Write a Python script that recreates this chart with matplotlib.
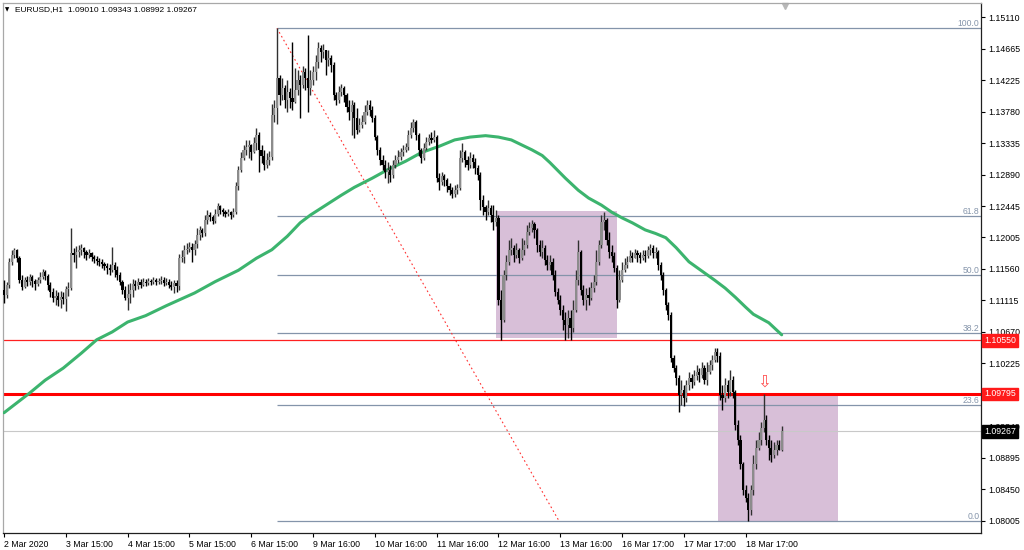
import matplotlib
matplotlib.use('Agg')
from matplotlib import pyplot as plt
from matplotlib.patches import Rectangle
from matplotlib.transforms import blended_transform_factory
import numpy as np

plt.rcParams['font.family'] = ['Liberation Sans', 'DejaVu Sans']

# ---- data (EURUSD H1, one value per hourly bar) ----
header = 'EURUSD,H1  1.09010 1.09343 1.08992 1.09267'
first_open = 1.1126
closes = [
    1.1119, 1.1133, 1.1166, 1.1176, 1.1183, 1.1171, 1.1140, 1.1130, 1.1140, 1.1138,
    1.1145, 1.1139, 1.1135, 1.1140, 1.1145, 1.1152, 1.1146, 1.1133, 1.1123, 1.1115,
    1.1118, 1.1112, 1.1116, 1.1114, 1.1128, 1.1129, 1.1179, 1.1176, 1.1180, 1.1183,
    1.1186, 1.1180, 1.1176, 1.1179, 1.1173, 1.1170, 1.1167, 1.1166, 1.1163, 1.1160,
    1.1157, 1.1154, 1.1161, 1.1154, 1.1147, 1.1138, 1.1126, 1.1115, 1.1121, 1.1126,
    1.1135, 1.1132, 1.1138, 1.1133, 1.1138, 1.1136, 1.1139, 1.1138, 1.1140, 1.1138,
    1.1139, 1.1140, 1.1136, 1.1138, 1.1133, 1.1130, 1.1136, 1.1132, 1.1171, 1.1173,
    1.1183, 1.1184, 1.1187, 1.1183, 1.1191, 1.1204, 1.1211, 1.1207, 1.1225, 1.1232,
    1.1229, 1.1224, 1.1234, 1.1245, 1.1239, 1.1236, 1.1234, 1.1236, 1.1232, 1.1236,
    1.1273, 1.1296, 1.1312, 1.1324, 1.1328, 1.1331, 1.1321, 1.1334, 1.1345, 1.1324,
    1.1315, 1.1303, 1.1310, 1.1314, 1.1373, 1.1383, 1.1425, 1.1401, 1.1411, 1.1394,
    1.1406, 1.1397, 1.1392, 1.1408, 1.1423, 1.1415, 1.1434, 1.1425, 1.1411, 1.1423,
    1.1434, 1.1448, 1.1468, 1.1462, 1.1465, 1.1451, 1.1454, 1.1444, 1.1401, 1.1394,
    1.1406, 1.1411, 1.1401, 1.1384, 1.1377, 1.1387, 1.1369, 1.1352, 1.1359, 1.1363,
    1.1377, 1.1387, 1.1380, 1.1369, 1.1342, 1.1324, 1.1310, 1.1303, 1.1293, 1.1296,
    1.1288, 1.1303, 1.1310, 1.1314, 1.1321, 1.1324, 1.1328, 1.1345, 1.1355, 1.1363,
    1.1345, 1.1324, 1.1312, 1.1327, 1.1335, 1.1341, 1.1338, 1.1342, 1.1284, 1.1279,
    1.1287, 1.1281, 1.1273, 1.1267, 1.1262, 1.1267, 1.1270, 1.1312, 1.1321, 1.1310,
    1.1303, 1.1312, 1.1307, 1.1298, 1.1288, 1.1253, 1.1243, 1.1236, 1.1242, 1.1232,
    1.1222, 1.1228, 1.1112, 1.1084, 1.1147, 1.1166, 1.1183, 1.1186, 1.1176, 1.1183,
    1.1171, 1.1183, 1.1190, 1.1208, 1.1214, 1.1219, 1.1211, 1.1190, 1.1180, 1.1186,
    1.1169, 1.1161, 1.1166, 1.1147, 1.1123, 1.1112, 1.1098, 1.1084, 1.1077, 1.1087,
    1.1073, 1.1098, 1.1140, 1.1180, 1.1126, 1.1112, 1.1119, 1.1115, 1.1129, 1.1138,
    1.1166, 1.1190, 1.1222, 1.1225, 1.1197, 1.1180, 1.1174, 1.1157, 1.1112, 1.1140,
    1.1154, 1.1161, 1.1166, 1.1174, 1.1171, 1.1179, 1.1176, 1.1171, 1.1176, 1.1174,
    1.1183, 1.1186, 1.1179, 1.1180, 1.1161, 1.1147, 1.1126, 1.1105, 1.1091, 1.1030,
    1.1016, 1.1002, 1.0978, 1.0985, 1.0974, 1.0992, 1.1002, 1.0996, 1.1005, 1.1011,
    1.1006, 1.1016, 1.0999, 1.1011, 1.1021, 1.1028, 1.1039, 1.1033, 1.0978, 1.0974,
    1.0992, 1.0982, 1.0999, 1.0982, 1.0936, 1.0915, 1.0880, 1.0844, 1.0833, 1.0816,
    1.0844, 1.0880, 1.0903, 1.0915, 1.0932, 1.0943, 1.0915, 1.0903, 1.0894, 1.0901,
    1.0908, 1.0901, 1.09267,
]
highs = [
    1.1140, 1.1138, 1.1171, 1.1183, 1.1186, 1.1184, 1.1174, 1.1147, 1.1145, 1.1146,
    1.1149, 1.1147, 1.1142, 1.1145, 1.1152, 1.1156, 1.1154, 1.1149, 1.1138, 1.1129,
    1.1126, 1.1123, 1.1125, 1.1123, 1.1132, 1.1138, 1.1214, 1.1186, 1.1188, 1.1190,
    1.1191, 1.1187, 1.1183, 1.1184, 1.1180, 1.1176, 1.1174, 1.1171, 1.1170, 1.1166,
    1.1164, 1.1163, 1.1187, 1.1166, 1.1160, 1.1152, 1.1140, 1.1132, 1.1135, 1.1136,
    1.1142, 1.1140, 1.1143, 1.1142, 1.1143, 1.1142, 1.1143, 1.1142, 1.1145, 1.1143,
    1.1143, 1.1146, 1.1145, 1.1143, 1.1142, 1.1139, 1.1140, 1.1140, 1.1177, 1.1183,
    1.1190, 1.1193, 1.1194, 1.1193, 1.1197, 1.1214, 1.1217, 1.1214, 1.1232, 1.1239,
    1.1236, 1.1232, 1.1241, 1.1249, 1.1246, 1.1242, 1.1239, 1.1241, 1.1238, 1.1242,
    1.1279, 1.1301, 1.1321, 1.1331, 1.1338, 1.1338, 1.1332, 1.1342, 1.1355, 1.1349,
    1.1331, 1.1324, 1.1320, 1.1322, 1.1389, 1.1394, 1.14955, 1.1430, 1.1425, 1.1416,
    1.1423, 1.1411, 1.1476, 1.1439, 1.1437, 1.1430, 1.1443, 1.1439, 1.1486, 1.1437,
    1.1443, 1.1458, 1.1476, 1.1472, 1.1473, 1.1465, 1.1465, 1.1458, 1.1448, 1.1406,
    1.1414, 1.1417, 1.1414, 1.1404, 1.1394, 1.1394, 1.1392, 1.1383, 1.1369, 1.1373,
    1.1387, 1.1394, 1.1394, 1.1386, 1.1373, 1.1345, 1.1328, 1.1317, 1.1310, 1.1307,
    1.1303, 1.1310, 1.1317, 1.1324, 1.1327, 1.1331, 1.1334, 1.1352, 1.1363, 1.1368,
    1.1366, 1.1348, 1.1327, 1.1334, 1.1342, 1.1346, 1.1349, 1.1352, 1.1345, 1.1291,
    1.1293, 1.1290, 1.1284, 1.1277, 1.1271, 1.1274, 1.1276, 1.1324, 1.1334, 1.1324,
    1.1315, 1.1321, 1.1318, 1.1312, 1.1303, 1.1293, 1.1260, 1.1246, 1.1253, 1.1246,
    1.1246, 1.1239, 1.1232, 1.1126, 1.1154, 1.1176, 1.1197, 1.1200, 1.1190, 1.1193,
    1.1186, 1.1200, 1.1197, 1.1218, 1.1222, 1.1225, 1.1222, 1.1214, 1.1197, 1.1197,
    1.1190, 1.1176, 1.1176, 1.1171, 1.1154, 1.1129, 1.1119, 1.1105, 1.1095, 1.1098,
    1.1098, 1.1112, 1.1154, 1.1197, 1.1183, 1.1133, 1.1129, 1.1130, 1.1138, 1.1147,
    1.1183, 1.1197, 1.1232, 1.1236, 1.1228, 1.1208, 1.1190, 1.1180, 1.1161, 1.1154,
    1.1166, 1.1171, 1.1174, 1.1183, 1.1180, 1.1184, 1.1183, 1.1180, 1.1183, 1.1183,
    1.1188, 1.1191, 1.1190, 1.1187, 1.1183, 1.1166, 1.1152, 1.1129, 1.1109, 1.1095,
    1.1035, 1.1020, 1.1006, 1.0999, 1.0992, 1.0999, 1.1011, 1.1008, 1.1013, 1.1021,
    1.1016, 1.1025, 1.1021, 1.1025, 1.1028, 1.1035, 1.1044, 1.1044, 1.1039, 1.0992,
    1.1002, 1.0999, 1.1013, 1.1005, 1.0985, 1.0943, 1.0922, 1.0884, 1.0851, 1.0840,
    1.0851, 1.0894, 1.0915, 1.0926, 1.0940, 1.0980, 1.0950, 1.0922, 1.0915, 1.0912,
    1.0915, 1.0915, 1.09343,
]
lows = [
    1.1108, 1.1115, 1.1129, 1.1161, 1.1171, 1.1166, 1.1136, 1.1126, 1.1129, 1.1132,
    1.1133, 1.1130, 1.1126, 1.1132, 1.1136, 1.1142, 1.1140, 1.1126, 1.1116, 1.1109,
    1.1105, 1.1104, 1.1101, 1.1107, 1.1097, 1.1118, 1.1126, 1.1166, 1.1157, 1.1173,
    1.1176, 1.1171, 1.1169, 1.1171, 1.1167, 1.1164, 1.1161, 1.1160, 1.1157, 1.1154,
    1.1149, 1.1147, 1.1152, 1.1145, 1.1140, 1.1133, 1.1121, 1.1112, 1.1098, 1.1108,
    1.1116, 1.1126, 1.1128, 1.1129, 1.1132, 1.1132, 1.1133, 1.1133, 1.1135, 1.1133,
    1.1135, 1.1135, 1.1132, 1.1133, 1.1129, 1.1126, 1.1122, 1.1123, 1.1126, 1.1166,
    1.1164, 1.1177, 1.1180, 1.1166, 1.1176, 1.1186, 1.1197, 1.1201, 1.1202, 1.1219,
    1.1224, 1.1219, 1.1221, 1.1231, 1.1234, 1.1231, 1.1229, 1.1231, 1.1226, 1.1229,
    1.1234, 1.1267, 1.1293, 1.1310, 1.1317, 1.1312, 1.1310, 1.1320, 1.1324, 1.1293,
    1.1305, 1.1296, 1.1298, 1.1303, 1.1310, 1.1363, 1.1361, 1.1387, 1.1394, 1.1383,
    1.1377, 1.1383, 1.1380, 1.1390, 1.1401, 1.1369, 1.1411, 1.1408, 1.1377, 1.1401,
    1.1415, 1.1423, 1.1439, 1.1448, 1.1454, 1.1430, 1.1442, 1.1434, 1.1394, 1.1387,
    1.1390, 1.1400, 1.1392, 1.1377, 1.1366, 1.1345, 1.1341, 1.1346, 1.1349, 1.1355,
    1.1361, 1.1373, 1.1372, 1.1363, 1.1338, 1.1317, 1.1303, 1.1296, 1.1284, 1.1277,
    1.1279, 1.1284, 1.1298, 1.1305, 1.1310, 1.1315, 1.1321, 1.1324, 1.1341, 1.1349,
    1.1338, 1.1315, 1.1305, 1.1310, 1.1324, 1.1331, 1.1334, 1.1335, 1.1279, 1.1267,
    1.1274, 1.1273, 1.1264, 1.1260, 1.1256, 1.1257, 1.1262, 1.1267, 1.1307, 1.1300,
    1.1296, 1.1299, 1.1298, 1.1290, 1.1281, 1.1239, 1.1232, 1.1225, 1.1232, 1.1222,
    1.1211, 1.1217, 1.1105, 1.1056, 1.1081, 1.1140, 1.1161, 1.1176, 1.1166, 1.1171,
    1.1164, 1.1169, 1.1176, 1.1186, 1.1204, 1.1208, 1.1200, 1.1180, 1.1174, 1.1171,
    1.1161, 1.1154, 1.1154, 1.1140, 1.1118, 1.1107, 1.1091, 1.1070, 1.1056, 1.1059,
    1.1056, 1.1067, 1.1095, 1.1133, 1.1119, 1.1105, 1.1098, 1.1105, 1.1112, 1.1123,
    1.1133, 1.1161, 1.1186, 1.1211, 1.1190, 1.1171, 1.1166, 1.1152, 1.1101, 1.1109,
    1.1138, 1.1152, 1.1157, 1.1166, 1.1166, 1.1171, 1.1166, 1.1164, 1.1169, 1.1166,
    1.1171, 1.1176, 1.1171, 1.1171, 1.1154, 1.1140, 1.1119, 1.1098, 1.1084, 1.1025,
    1.1011, 1.0992, 1.0954, 1.0964, 1.0963, 1.0968, 1.0985, 1.0988, 1.0992, 1.0999,
    1.0996, 1.1002, 1.0994, 1.0992, 1.1008, 1.1013, 1.1025, 1.1025, 1.0971, 1.0957,
    1.0968, 1.0974, 1.0977, 1.0974, 1.0929, 1.0908, 1.0873, 1.0837, 1.0827, 1.08005,
    1.0809, 1.0837, 1.0873, 1.0901, 1.0908, 1.0926, 1.0908, 1.0887, 1.0884, 1.0889,
    1.0894, 1.0900, 1.08992,
]

# moving average (green line), sampled along the curve
ma_bars = [0, 5, 10, 16, 23, 30, 36, 42, 48, 55, 63, 74, 82, 91, 98, 104, 110, 115,
           119, 125, 131, 136, 143, 149, 156, 162, 169, 175, 181, 187, 192, 197, 205,
           209, 212, 218, 223, 227, 232, 236, 240, 244, 249, 253, 257, 261, 266, 271,
           276, 280, 284, 288, 291, 294, 297, 302]
ma_values = [1.0953, 1.0967, 1.0981, 1.0999, 1.1016, 1.1037, 1.1056, 1.1067, 1.1081,
             1.1090, 1.1104, 1.1122, 1.1138, 1.1154, 1.1171, 1.1183, 1.1202, 1.1221,
             1.1232, 1.1246, 1.1260, 1.1271, 1.1284, 1.1296, 1.1308, 1.1320, 1.1329,
             1.1338, 1.1342, 1.1344, 1.1342, 1.1338, 1.1324, 1.1316, 1.1306, 1.1284,
             1.1267, 1.1256, 1.1246, 1.1236, 1.1228, 1.1221, 1.1211, 1.1206, 1.1200,
             1.1186, 1.1166, 1.1153, 1.1140, 1.1129, 1.1116, 1.1102, 1.1092, 1.1086,
             1.1080, 1.1063]

time_tick_bars = [0, 24, 48, 72, 96, 120, 144, 168, 192, 216, 240, 264, 288]
time_tick_labels = ['2 Mar 2020', '3 Mar 15:00', '4 Mar 15:00', '5 Mar 15:00',
                    '6 Mar 15:00', '9 Mar 16:00', '10 Mar 16:00', '11 Mar 16:00',
                    '12 Mar 16:00', '13 Mar 16:00', '16 Mar 17:00', '17 Mar 17:00',
                    '18 Mar 17:00']
price_ticks = [1.15110, 1.14665, 1.14225, 1.13780, 1.13335, 1.12890, 1.12445,
               1.12005, 1.11560, 1.11115, 1.10670, 1.10225, 1.09780, 1.09340,
               1.08895, 1.08450, 1.08005]
hidden_tick = 1.09780   # its label sits under the red price tag

# fibonacci retracement anchors
fib_start_bar, fib_high = 106, 1.14955
fib_end_bar, fib_low = 215.5, 1.08005
fib_levels = [0.0, 23.6, 38.2, 50.0, 61.8, 100.0]

# horizontal levels
resistance_thin = 1.10550
resistance_thick = 1.09795
bid_price = 1.09267

# shaded zones: (bar from, bar to, price low, price high)
zones = [(191.0, 238.0, 1.1058, 1.1237), (277.2, 323.9, 1.08005, 1.09795)]

arrow_bar, arrow_price = 295, 1.0997

# ---------------------------------------------------------------------
bars = np.arange(len(closes))
c = np.array(closes)
o = np.array([first_open] + closes[:-1])
h = np.array(highs)
l = np.array(lows)
up = c >= o

fig = plt.figure(figsize=(10.24, 5.5), dpi=100)
fig.patch.set_facecolor('white')
ax = fig.add_axes([3 / 1024, 17 / 550, 978 / 1024, 530 / 550])

px_per_bar = 2.575
x_left = -0.4
ax.set_xlim(x_left, x_left + 978 / px_per_bar)
ax.set_ylim(1.07833, 1.15312)

# zones in the background
for b0, b1, p0, p1 in zones:
    ax.add_patch(Rectangle((b0, p0), b1 - b0, p1 - p0, facecolor='#d8bfd8',
                           edgecolor='none', zorder=0.5))

# fibonacci
fib_color = '#8494aa'
x_right = ax.get_xlim()[1]
tr = blended_transform_factory(ax.transAxes, ax.transData)
for lev in fib_levels:
    price = fib_low + (fib_high - fib_low) * lev / 100.0
    ax.hlines(price, fib_start_bar, x_right, color=fib_color, lw=0.9, zorder=2)
    ax.text(0.9985, price, f'{lev:.1f}', transform=tr,
            ha='right', va='bottom', fontsize=6.2, color=fib_color, zorder=2)
ax.plot([fib_start_bar, fib_end_bar], [fib_high, fib_low], color='#ff3030',
        lw=0.8, ls=(0, (1.5, 2.5)), zorder=2)

ax.axhline(bid_price, color='#c8c8c8', lw=0.8, zorder=1)
ax.axhline(resistance_thin, color='#ff2020', lw=0.9, zorder=2)
ax.axhline(resistance_thick, color='#ff0000', lw=2.2, zorder=2)

# moving average
ax.plot(ma_bars, ma_values, color='#3cb46e', lw=2.2, solid_capstyle='round',
        solid_joinstyle='round', zorder=3)

# candles
wick_cols = np.where(up, '#303030', '#000000')
body_cols = np.where(up, '#8c8c8c', '#000000')
ax.vlines(bars, l, h, colors=wick_cols, lw=1.0, zorder=4)
ax.bar(bars, np.maximum(np.abs(c - o), 0.00005), bottom=np.minimum(o, c), width=0.85,
       color=body_cols, linewidth=0, zorder=5)

ax.text(arrow_bar, arrow_price, '\u21e9', ha='center', va='center', fontsize=12,
        color='#ff5050', family='DejaVu Sans', zorder=6)

# axes styling
for side in ['left', 'top']:
    ax.spines[side].set_color('#a8a8a8')
for side in ['right', 'bottom']:
    ax.spines[side].set_color('#202020')
for sp in ax.spines.values():
    sp.set_linewidth(0.9)

ax.yaxis.tick_right()
ax.set_yticks(price_ticks)
ax.set_yticklabels(['' if p == hidden_tick else f'{p:.5f}' for p in price_ticks])
ax.tick_params(axis='y', length=3, width=0.8, pad=2, labelsize=6.3, colors='#000000')
ax.set_xticks(time_tick_bars)
ax.set_xticklabels(time_tick_labels, ha='left')
ax.tick_params(axis='x', length=3, width=0.8, pad=2, labelsize=6.3)

# price tags on the axis
for price, face in [(resistance_thin, '#ff1a1a'), (resistance_thick, '#ff1a1a'), (bid_price, '#000000')]:
    ax.text(1.003, price, f'{price:.5f}', transform=tr, ha='left', va='center',
            fontsize=6.3, color='white', clip_on=False, zorder=10,
            bbox=dict(boxstyle='square,pad=0.22', fc=face, ec=face))

# chart shift marker
ax.plot([(785 - 3) / 978], [0.995], marker='v', markersize=4, color='#b8b8b8',
        transform=ax.transAxes, clip_on=False)

# header
fig.text(5 / 1024, 1 - 10 / 550, '\u25bc', fontsize=4, va='center', ha='left', family='DejaVu Sans')
fig.text(15 / 1024, 1 - 10 / 550, header, fontsize=6, va='center', ha='left')

fig.savefig('out.png', dpi=100)
